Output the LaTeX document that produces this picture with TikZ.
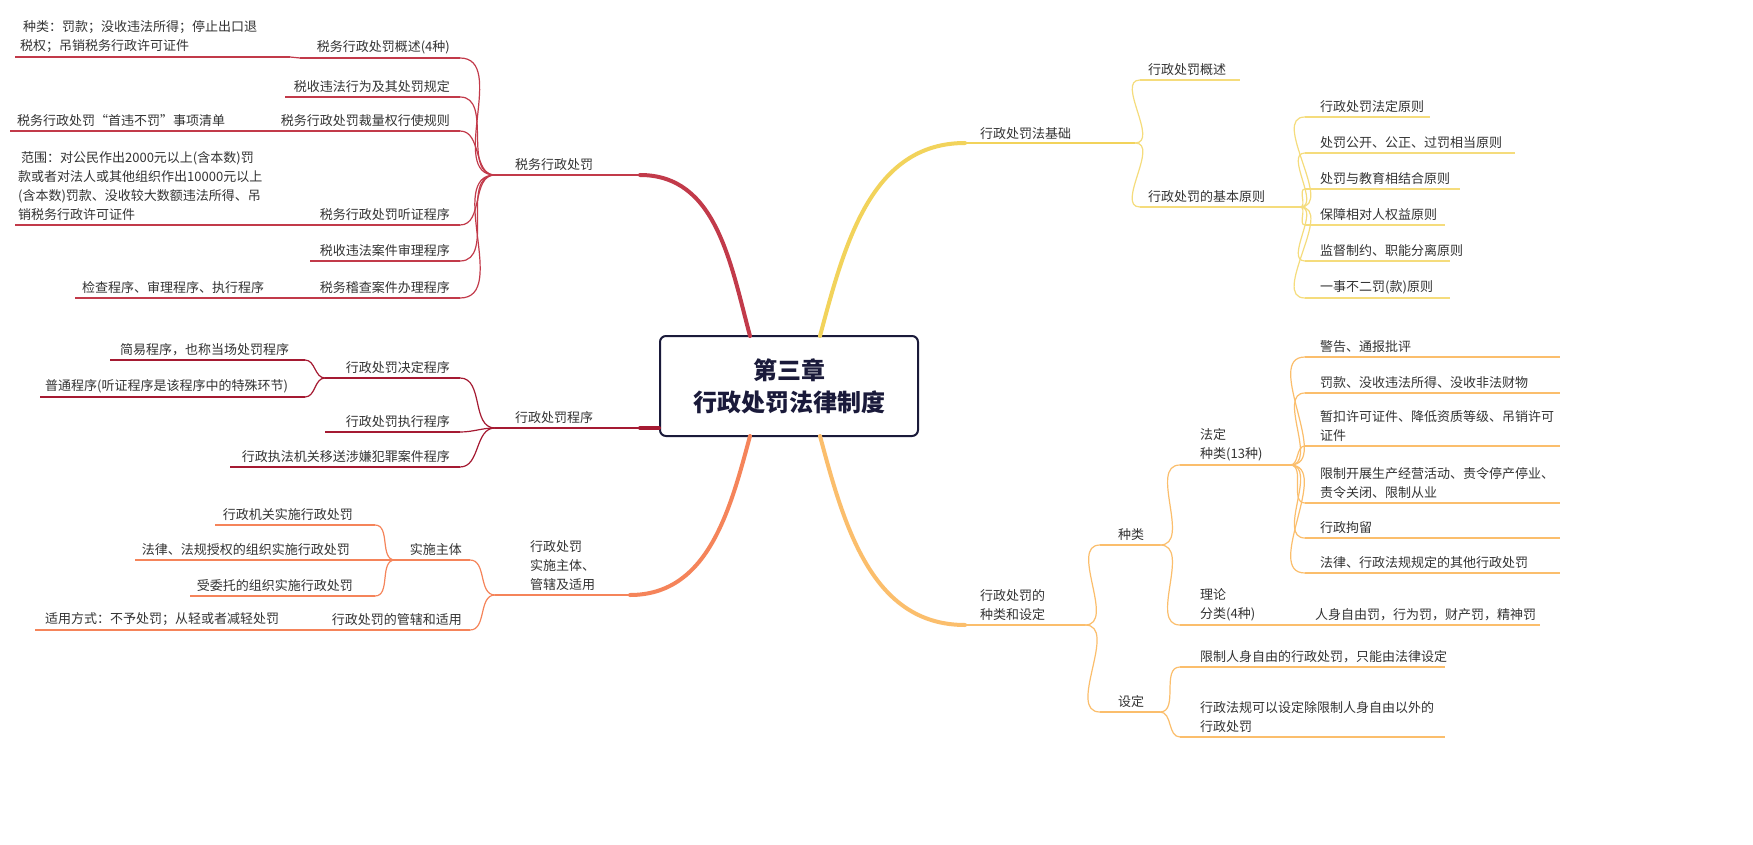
\documentclass[tikz,border=0pt]{standalone}
\usepackage{fontspec}
\setmainfont{Noto Sans CJK SC}
\begin{document}
\begin{tikzpicture}[x=1pt,y=-1pt,
 txt/.style={inner sep=0pt,font=\fontsize{13}{19}\selectfont,text=black!80,align=left},
 br/.style={line width=1.2pt},
 mainbr/.style={line width=4pt,line cap=round},
 cn/.style={line width=1.2pt}]
\definecolor{Y}{HTML}{F2D35B}\definecolor{O}{HTML}{FBBE6C}\definecolor{R}{HTML}{C23A4A}
\definecolor{C}{HTML}{A51A32}\definecolor{P}{HTML}{F5845A}\definecolor{N}{HTML}{1A1A3A}
\useasboundingbox[fill=white] (0,0) rectangle (1753,845);
\newcommand\ul[5]{\coordinate (#1-l) at (#2,#4);\coordinate (#1-r) at (#3,#4);\draw[#5,br] (#1-l)--(#1-r);}
\newcommand\lk[3]{\draw[#3,cn] (#1) to[out=0,in=180] (#2);}
\newcommand\lkl[3]{\draw[#3,cn] (#1) to[out=180,in=0] (#2);}
% center
\node[draw=N,line width=2pt,rounded corners=6pt,minimum width=258pt,minimum height=100pt,align=center,font=\fontsize{24}{32}\selectfont\bfseries,text=N] (c) at (789,386) {第三章\\行政处罚法律制度};
% ===== right yellow
\ul{a}{965}{1135}{143}{Y}
\draw[Y,mainbr] (820,336) to[out=75,in=180] (a-l);
\node[txt,anchor=south west] (ta) at (980,140) {行政处罚法基础};
\ul{a1}{1140}{1240}{80}{Y!80}\node[txt,anchor=south west] (ta1) at (1148,76) {行政处罚概述};
\ul{a2}{1140}{1300}{207}{Y!80}\node[txt,anchor=south west] (ta2) at (1148,203) {行政处罚的基本原则};
\lk{a-r}{a1-l}{Y!80}\lk{a-r}{a2-l}{Y!80}
\foreach \n/\y/\w/\t in {1/117/1430/行政处罚法定原则,2/153/1515/处罚公开、公正、过罚相当原则,3/189/1460/处罚与教育相结合原则,4/225/1445/保障相对人权益原则,5/261/1450/监督制约、职能分离原则,6/298/1450/一事不二罚(款)原则}{
 \ul{b\n}{1305}{\w}{\y}{Y!80}\node[txt,anchor=south west] (tb\n) at (1320,\y-4) {\t};\lk{a2-r}{b\n-l}{Y!80}}
% ===== right orange
\ul{d}{965}{1085}{625}{O}
\draw[O,mainbr] (820,436) to[out=-75,in=180] (d-l);
\node[txt,anchor=south west] (td) at (980,621) {行政处罚的\\种类和设定};
\ul{d1}{1100}{1160}{545}{O}\node[txt,anchor=south west] (td1) at (1118,541) {种类};
\ul{d2}{1100}{1160}{712}{O}\node[txt,anchor=south west] (td2) at (1118,708) {设定};
\lk{d-r}{d1-l}{O}\lk{d-r}{d2-l}{O}
\ul{e1}{1180}{1290}{465}{O}\node[txt,anchor=south west] (te1) at (1200,461) {法定\\种类(13种)};
\ul{e2}{1180}{1300}{625}{O}\node[txt,anchor=south west] (te2) at (1200,621) {理论\\分类(4种)};
\lk{d1-r}{e1-l}{O}\lk{d1-r}{e2-l}{O}
\foreach \n/\y/\t in {1/357/警告、通报批评,2/393/罚款、没收违法所得、没收非法财物,3/446/暂扣许可证件、降低资质等级、吊销许可\\证件,4/503/限制开展生产经营活动、责令停产停业、\\责令关闭、限制从业,5/538/行政拘留,6/573/法律、行政法规规定的其他行政处罚}{
 \ul{f\n}{1305}{1560}{\y}{O}\node[txt,anchor=south west] (tf\n) at (1320,\y-4) {\t};\lk{e1-r}{f\n-l}{O}}
\ul{g1}{1300}{1540}{625}{O}\node[txt,anchor=south west] (tg1) at (1315,621) {人身自由罚，行为罚，财产罚，精神罚};
\draw[O,cn] (e2-r)--(g1-l);
\ul{h1}{1180}{1445}{667}{O}\node[txt,anchor=south west] (th1) at (1200,663) {限制人身自由的行政处罚，只能由法律设定};
\ul{h2}{1180}{1445}{737}{O}\node[txt,anchor=south west] (th2) at (1200,733) {行政法规可以设定除限制人身自由以外的\\行政处罚};
\lk{d2-r}{h1-l}{O}\lk{d2-r}{h2-l}{O}
% ===== left red
\ul{r}{495}{640}{175}{R}
\draw[R,mainbr] (750,336) to[out=105,in=0] (r-r);
\node[txt,anchor=south west] (tr) at (515,171) {税务行政处罚};
\foreach \n/\y/\x/\t in {1/58/300/税务行政处罚概述(4种),2/97/285/税收违法行为及其处罚规定,3/131/275/税务行政处罚裁量权行使规则,4/225/310/税务行政处罚听证程序,5/261/310/税收违法案件审理程序,6/298/310/税务稽查案件办理程序}{
 \ul{s\n}{\x}{460}{\y}{R}\node[txt,anchor=south east] (ts\n) at (450,\y-4) {\t};\lkl{r-l}{s\n-r}{R}}
\ul{u1}{15}{290}{57}{R}\node[txt,anchor=south west] (tu1) at (20,53) {\ 种类：罚款；没收违法所得；停止出口退\\税权；吊销税务行政许可证件};
\ul{u3}{10}{260}{131}{R}\node[txt,anchor=south west] (tu3) at (17,127) {税务行政处罚“首违不罚”事项清单};
\ul{u4}{15}{290}{225}{R}\node[txt,anchor=south west] (tu4) at (18,221) {\ 范围：对公民作出2000元以上(含本数)罚\\款或者对法人或其他组织作出10000元以上\\(含本数)罚款、没收较大数额违法所得、吊\\销税务行政许可证件};
\ul{u6}{75}{290}{298}{R}\node[txt,anchor=south west] (tu6) at (82,294) {检查程序、审理程序、执行程序};
\lkl{s1-l}{u1-r}{R}\lkl{s3-l}{u3-r}{R}\lkl{s4-l}{u4-r}{R}\lkl{s6-l}{u6-r}{R}
% ===== left crimson
\ul{k}{495}{660}{428}{C}
\draw[C,mainbr] (c.west |- 0,428)--(640,428);
\node[txt,anchor=south west] (tk) at (515,424) {行政处罚程序};
\ul{k1}{325}{460}{378}{C}\node[txt,anchor=south east] (tk1) at (450,374) {行政处罚决定程序};
\ul{k2}{325}{460}{432}{C}\node[txt,anchor=south east] (tk2) at (450,428) {行政处罚执行程序};
\ul{k3}{230}{460}{467}{C}\node[txt,anchor=south east] (tk3) at (450,463) {行政执法机关移送涉嫌犯罪案件程序};
\lkl{k-l}{k1-r}{C}\lkl{k-l}{k2-r}{C}\lkl{k-l}{k3-r}{C}
\ul{m1}{110}{305}{360}{C}\node[txt,anchor=south west] (tm1) at (120,356) {简易程序，也称当场处罚程序};
\ul{m2}{40}{305}{397}{C}\node[txt,anchor=south west] (tm2) at (45,393) {普通程序(听证程序是该程序中的特殊环节)};
\lkl{k1-l}{m1-r}{C}\lkl{k1-l}{m2-r}{C}
% ===== left orange
\ul{p}{495}{630}{595}{P}
\draw[P,mainbr] (750,436) to[out=-105,in=0] (p-r);
\node[txt,anchor=south west] (tp) at (530,591) {行政处罚\\实施主体、\\管辖及适用};
\ul{p1}{395}{470}{560}{P}\node[txt,anchor=south east] (tp1) at (462,556) {实施主体};
\ul{p2}{320}{470}{630}{P}\node[txt,anchor=south east] (tp2) at (462,626) {行政处罚的管辖和适用};
\lkl{p-l}{p1-r}{P}\lkl{p-l}{p2-r}{P}
\ul{q1}{215}{375}{525}{P}\node[txt,anchor=south east] (tq1) at (353,521) {行政机关实施行政处罚};
\ul{q2}{135}{375}{560}{P}\node[txt,anchor=south east] (tq2) at (350,556) {法律、法规授权的组织实施行政处罚};
\ul{q3}{190}{375}{596}{P}\node[txt,anchor=south east] (tq3) at (353,592) {受委托的组织实施行政处罚};
\lkl{p1-l}{q1-r}{P}\lkl{p1-l}{q2-r}{P}\lkl{p1-l}{q3-r}{P}
\ul{q4}{35}{300}{630}{P}\node[txt,anchor=south west] (tq4) at (45,626) {适用方式：不予处罚；从轻或者减轻处罚};
\draw[P,cn] (p2-l)--(q4-r);
\end{tikzpicture}
\end{document}
